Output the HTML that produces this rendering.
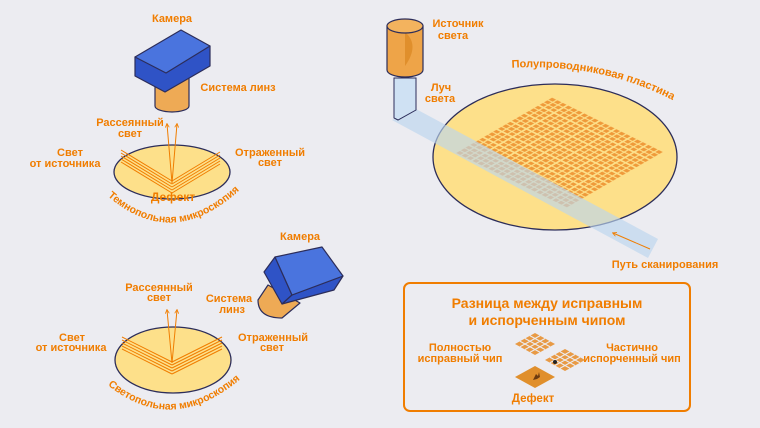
<!DOCTYPE html>
<html><head><meta charset="utf-8"><style>
html,body{margin:0;padding:0;background:#ececf1;}
svg{display:block;font-family:"Liberation Sans","DejaVu Sans",sans-serif;font-weight:bold;}
.t{fill:#f07d00;font-size:11px;text-anchor:middle;}
</style></head><body>
<svg width="760" height="428" viewBox="0 0 760 428" xmlns="http://www.w3.org/2000/svg">
<defs>
<pattern id="cells" patternUnits="userSpaceOnUse" width="0.0476" height="0.0476">
<rect x="0.006" y="0.006" width="0.036" height="0.036" fill="#ef9a3a"/>
</pattern>
<marker id="ah" viewBox="0 0 10 10" refX="8" refY="5" markerWidth="5" markerHeight="5" orient="auto"><path d="M1,1 L9,5 L1,9" fill="none" stroke="#f07d00" stroke-width="1.6"/></marker>
</defs>
<rect width="760" height="428" fill="#ececf1"/>

<!-- Dark field -->
<text class="t" x="172" y="22">Камера</text>
<path d="M155,78 L155,106 A17,6 0 0 0 189,106 L189,78 Z" fill="#eeaa55" stroke="#2c2d5a" stroke-width="1.2"/>
<path d="M135,57 L135,76 L165,92 L210,66 L210,46 Z" fill="#2f53c6" stroke="#2c2d5a" stroke-width="1.2" stroke-linejoin="round"/>
<path d="M135,57 L181,30 L210,46 L166,73 Z" fill="#4a74de" stroke="#2c2d5a" stroke-width="1.2" stroke-linejoin="round"/>
<text class="t" x="238" y="91">Система линз</text>
<ellipse cx="172" cy="172" rx="58" ry="27" fill="#fde08a" stroke="#2c2d5a" stroke-width="1.3"/>
<g stroke="#f07d00" stroke-width="1" fill="none">
<path d="M121,150 L172,181 M121,153 L172,184 M121,156 L172,187 M121,159 L172,190 M121,162 L172,193"/>
<path d="M172,181 L220,152 M172,184 L220,155 M172,187 L220,158 M172,190 L220,161 M172,193 L220,164"/>
<path d="M172,183 L167,124" marker-end="url(#ah)"/>
<path d="M172,183 L177,124" marker-end="url(#ah)"/>
</g>
<text class="t" x="130" y="126">Рассеянный</text><text class="t" x="130" y="137">свет</text>
<text class="t" x="70" y="156">Свет</text><text class="t" x="65" y="167">от источника</text>
<text class="t" x="270" y="156">Отраженный</text><text class="t" x="270" y="166">свет</text>
<text class="t" x="173" y="201" style="font-size:12px">Дефект</text>
<path id="arc1" d="M103,192 Q172,256 244,186" fill="none"/>
<text class="t" style="font-size:10.5px"><textPath href="#arc1" startOffset="50%">Темнопольная микроскопия</textPath></text>

<!-- Light field -->
<text class="t" x="300" y="240">Камера</text>
<path d="M268,285 L258,300 Q258,318 282,318 L300,303 Z" fill="#eeaa55" stroke="#2c2d5a" stroke-width="1.2" stroke-linejoin="round"/>
<path d="M275,257 L264,272 L282,304 L292,295 Z" fill="#2f53c6" stroke="#2c2d5a" stroke-width="1.2" stroke-linejoin="round"/>
<path d="M282,304 L334,290 L343,276 L292,295 Z" fill="#2f53c6" stroke="#2c2d5a" stroke-width="1.2" stroke-linejoin="round"/>
<path d="M275,257 L322,247 L343,276 L292,295 Z" fill="#4a74de" stroke="#2c2d5a" stroke-width="1.2" stroke-linejoin="round"/>
<text class="t" x="229" y="302">Система</text><text class="t" x="232" y="313">линз</text>
<ellipse cx="173" cy="360" rx="58" ry="33" fill="#fde08a" stroke="#2c2d5a" stroke-width="1.3"/>
<g stroke="#f07d00" stroke-width="1" fill="none">
<path d="M122,337 L172,362 M122,340 L172,365 M122,343 L172,368 M122,346 L172,371 M122,349 L172,374"/>
<path d="M172,362 L222,337 M172,365 L222,340 M172,368 L222,343 M172,371 L222,346 M172,374 L222,349"/>
<path d="M172,363 L167,310" marker-end="url(#ah)"/>
<path d="M172,363 L177,310" marker-end="url(#ah)"/>
</g>
<text class="t" x="159" y="291">Рассеянный</text><text class="t" x="159" y="301">свет</text>
<text class="t" x="72" y="341">Свет</text><text class="t" x="71" y="351">от источника</text>
<text class="t" x="273" y="341">Отраженный</text><text class="t" x="272" y="351">свет</text>
<path id="arc2" d="M104,382 Q172,440 244,376" fill="none"/>
<text class="t" style="font-size:10.5px"><textPath href="#arc2" startOffset="50%">Светопольная микроскопия</textPath></text>

<!-- Wafer -->
<ellipse cx="555" cy="157" rx="122" ry="73" fill="#fde08a" stroke="#2c2d5a" stroke-width="1.3"/>
<g transform="matrix(97,-56,112,55,455,153)">
<rect x="0" y="0" width="1" height="1" fill="url(#cells)"/>
<path vector-effect="non-scaling-stroke" stroke="#fde08a" stroke-width="1.6" fill="none" d="M0.1428,0V1M0.2857,0V1M0.4286,0V1M0.5714,0V1M0.7143,0V1M0.8571,0V1M0,0.1428H1M0,0.2857H1M0,0.4286H1M0,0.5714H1M0,0.7143H1M0,0.8571H1"/>
</g>
<polygon points="392,120 416,109 658,239 648,258" fill="#bcd6ee" opacity="0.65"/>
<path d="M387,26 L387,70 A18,7 0 0 0 423,70 L423,26 Z" fill="#eea448" stroke="#2c2d5a" stroke-width="1.2"/>
<path d="M405,32 Q420,45 405,66 Z" fill="#e08f2c"/>
<ellipse cx="405" cy="26" rx="18" ry="7" fill="#f3b35e" stroke="#2c2d5a" stroke-width="1.2"/>
<polygon points="394,78 416,78 416,110 398,120 394,118" fill="#cfe1f3" stroke="#2c2d5a" stroke-width="1"/>
<text class="t" x="458" y="27">Источник</text><text class="t" x="453" y="39">света</text>
<text class="t" x="441" y="91">Луч</text><text class="t" x="440" y="102">света</text>
<path id="arc3" d="M508,68 Q602,62 676,102" fill="none"/>
<text class="t"><textPath href="#arc3" startOffset="50%">Полупроводниковая пластина</textPath></text>
<path d="M650,249 L613,233" stroke="#f07d00" stroke-width="1" fill="none" marker-end="url(#ah)"/>
<text class="t" x="665" y="268">Путь сканирования</text>

<!-- Box -->
<rect x="404" y="283" width="286" height="128" rx="6" fill="none" stroke="#f07d00" stroke-width="2"/>
<text class="t" x="547" y="308" style="font-size:14px">Разница между исправным</text>
<text class="t" x="547" y="325" style="font-size:14px">и испорченным чипом</text>
<text class="t" x="460" y="351">Полностью</text><text class="t" x="460" y="362">исправный чип</text>
<text class="t" x="632" y="351">Частично</text><text class="t" x="632" y="362">испорченный чип</text>
<g transform="matrix(20,-11,20,11,515,344)"><rect width="1" height="1" fill="#e89a45"/><path d="M.25,0V1M.5,0V1M.75,0V1M0,.25H1M0,.5H1M0,.75H1" stroke="#ececf1" stroke-width="1" vector-effect="non-scaling-stroke"/></g>
<g transform="matrix(20,-11,20,11,545,360)"><rect width="1" height="1" fill="#e89a45"/><path d="M.25,0V1M.5,0V1M.75,0V1M0,.25H1M0,.5H1M0,.75H1" stroke="#ececf1" stroke-width="1" vector-effect="non-scaling-stroke"/></g>
<circle cx="555" cy="362" r="2" fill="#222"/>
<polygon points="515,377 535,366 555,377 535,388" fill="#e08f2c"/>
<path d="M533,380 l3,-6 l2,2 l1,-4 l1,5 l-3,2 z" fill="#6b3a10"/>
<text class="t" x="533" y="402" style="font-size:11.5px">Дефект</text>
</svg>
</body></html>
